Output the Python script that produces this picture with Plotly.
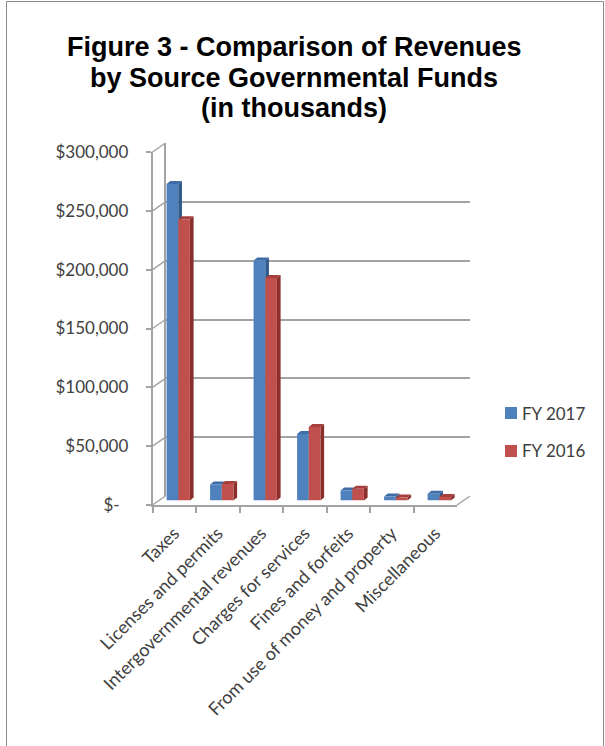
import plotly.graph_objects as go

# ---- data (thousands of dollars) ----
categories = [
    "Taxes",
    "Licenses and permits",
    "Intergovernmental revenues",
    "Charges for services",
    "Fines and forfeits",
    "From use of money and property",
    "Miscellaneous",
]
fy2017 = [269000, 13500, 204000, 56500, 8600, 3500, 5800]
fy2016 = [239000, 14000, 189000, 62500, 10000, 2500, 3000]
series_names = ["FY 2017", "FY 2016"]
tick_values = [0, 50000, 100000, 150000, 200000, 250000, 300000]
tick_labels = ["$-\u00a0\u00a0", "$50,000", "$100,000", "$150,000",
               "$200,000", "$250,000", "$300,000"]
title_lines = ["Figure 3 - Comparison of Revenues",
               "by Source Governmental Funds",
               "(in thousands)"]

# ---- styling ----
W, H = 605, 746
BLUE, BLUE_SIDE, BLUE_TOP = "#4F81BD", "#2F5A8E", "#3D6CA6"
RED, RED_SIDE, RED_TOP = "#C0504D", "#8A2F2C", "#A63F3C"
GRID = "#A3A3A3"
TEXT = "#404040"
LABEL_FONT = dict(family="Lato", size=17, color=TEXT)
CAT_FONT = dict(family="Lato", size=18, color=TEXT)
YMAX = 300000
BARGAP = 0.464


def fx(px):
    return px / W


def fy(py):
    return 1 - py / H


# pixel boxes for the back wall, the bar plane and the front axes (pseudo 3-D)
back = dict(x0=165.5, x1=470.0, top=143.0, bot=496.0)
mid = dict(x0=156.5, x1=461.0, top=147.5, bot=500.5)
front = dict(x0=152.5, x1=457.0, top=152.0, bot=505.0)

fig = go.Figure()

# back wall: gridlines only
fig.add_trace(go.Scatter(x=[0], y=[0], xaxis="x", yaxis="y", mode="markers",
                         marker=dict(opacity=0), hoverinfo="skip", showlegend=False))
# bars
fig.add_trace(go.Bar(x=list(range(len(categories))), y=fy2017, name=series_names[0],
                     marker=dict(color=BLUE, line=dict(width=0)),
                     xaxis="x2", yaxis="y2", showlegend=False))
fig.add_trace(go.Bar(x=list(range(len(categories))), y=fy2016, name=series_names[1],
                     marker=dict(color=RED, line=dict(width=0)),
                     xaxis="x2", yaxis="y2", showlegend=False))
# front axes with category labels
fig.add_trace(go.Scatter(x=categories, y=[0] * len(categories), xaxis="x3", yaxis="y3",
                         mode="markers", marker=dict(opacity=0), hoverinfo="skip",
                         showlegend=False))

# depth of the bars, converted to data units of the bar plane
unit_px = (mid["x1"] - mid["x0"]) / len(categories)
dx = 3.7 / unit_px
dy = 3.0 * YMAX / (mid["bot"] - mid["top"])
w = (1 - BARGAP) / 2

shapes = []


def box_faces(left, right, value, side_col, top_col, base=0):
    top = dict(type="path", xref="x2", yref="y2", layer="below", line=dict(width=0),
               fillcolor=top_col,
               path=f"M{left},{value} L{left + dx},{value + dy} L{right + dx},{value + dy} "
                    f"L{right},{value} Z")
    side = dict(type="path", xref="x2", yref="y2", layer="below", line=dict(width=0),
                fillcolor=side_col,
                path=f"M{right},{base} L{right + dx},{base + dy} L{right + dx},{value + dy} "
                     f"L{right},{value} Z")
    return [side, top]


for i, (b, r) in enumerate(zip(fy2017, fy2016)):
    shapes += box_faces(i - w, i, b, BLUE_SIDE, BLUE_TOP)
    shapes += box_faces(i, i + w, r, RED_SIDE, RED_TOP)


# connectors between the front axis and the back wall
def yfront(v):
    return front["bot"] - v / YMAX * (front["bot"] - front["top"])


def yback(v):
    return back["bot"] - v / YMAX * (back["bot"] - back["top"])


for v in tick_values:
    shapes.append(dict(type="line", xref="paper", yref="paper",
                       x0=fx(front["x0"]), y0=fy(yfront(v)),
                       x1=fx(back["x0"]), y1=fy(yback(v)),
                       line=dict(color=GRID, width=1.5)))
shapes.append(dict(type="line", xref="paper", yref="paper",
                   x0=fx(front["x1"]), y0=fy(front["bot"]),
                   x1=fx(back["x1"]), y1=fy(back["bot"]),
                   line=dict(color=GRID, width=1.5)))

# outer frame
shapes.append(dict(type="rect", xref="paper", yref="paper",
                   x0=fx(6.5), y0=fy(760), x1=fx(603.5), y1=fy(1.5),
                   line=dict(color="#8C8C8C", width=1), fillcolor="rgba(0,0,0,0)"))

# legend
legend_rows = [(series_names[0], BLUE, 413), (series_names[1], RED, 451)]
annotations = []
for name, col, yc in legend_rows:
    shapes.append(dict(type="rect", xref="paper", yref="paper",
                       x0=fx(505), x1=fx(517), y0=fy(yc + 6), y1=fy(yc - 6),
                       line=dict(width=0), fillcolor=col))
    annotations.append(dict(text=name, xref="paper", yref="paper", x=fx(520), y=fy(yc),
                            xanchor="left", yanchor="middle", showarrow=False,
                            font=LABEL_FONT))

# title, one annotation per line
for line, yc in zip(title_lines, [47, 78, 108]):
    annotations.append(dict(text=f"<b>{line}</b>", xref="paper", yref="paper",
                            x=fx(294), y=fy(yc), xanchor="center", yanchor="middle",
                            showarrow=False,
                            font=dict(family="Liberation Sans", size=27, color="#000000")))

fig.update_layout(
    width=W, height=H,
    autosize=False,
    margin=dict(l=0, r=0, t=0, b=0, pad=0, autoexpand=False),
    paper_bgcolor="white",
    plot_bgcolor="rgba(0,0,0,0)",
    barmode="group", bargap=BARGAP, bargroupgap=0,
    showlegend=False,
    shapes=shapes,
    annotations=annotations,
    xaxis=dict(domain=[fx(back["x0"]), fx(back["x1"])], range=[-0.5, 6.5],
               visible=False, fixedrange=True, automargin=False),
    yaxis=dict(domain=[fy(back["bot"]), fy(back["top"])], range=[0, YMAX],
               tickvals=tick_values, showgrid=True, gridcolor=GRID, gridwidth=1.5,
               showticklabels=False, ticks="", zeroline=False, automargin=False,
               showline=True, linecolor=GRID, linewidth=1.5, anchor="x"),
    xaxis2=dict(domain=[fx(mid["x0"]), fx(mid["x1"])], range=[-0.5, 6.5],
                visible=False, anchor="y2", automargin=False),
    yaxis2=dict(domain=[fy(mid["bot"]), fy(mid["top"])], range=[0, YMAX],
                visible=False, anchor="x2", automargin=False),
    xaxis3=dict(domain=[fx(front["x0"]), fx(front["x1"])], type="category",
                categoryorder="array", categoryarray=categories, range=[-0.5, 6.5],
                tickson="boundaries", ticks="outside", ticklen=6, tickcolor=GRID,
                tickwidth=1.5, showline=True, linecolor=GRID, linewidth=1.5,
                showgrid=False, tickangle=-45, tickfont=CAT_FONT, anchor="y3",
                ticklabelstandoff=9, automargin=False),
    yaxis3=dict(domain=[fy(front["bot"]), fy(front["top"])], range=[0, YMAX],
                tickvals=tick_values, ticktext=tick_labels, ticks="outside", ticklen=5,
                tickcolor=GRID, tickwidth=1.5, showline=True, linecolor=GRID,
                linewidth=1.5, showgrid=False, zeroline=False, tickfont=LABEL_FONT,
                ticklabelstandoff=14, anchor="x3", automargin=False),
)

fig.write_html("out.html")
